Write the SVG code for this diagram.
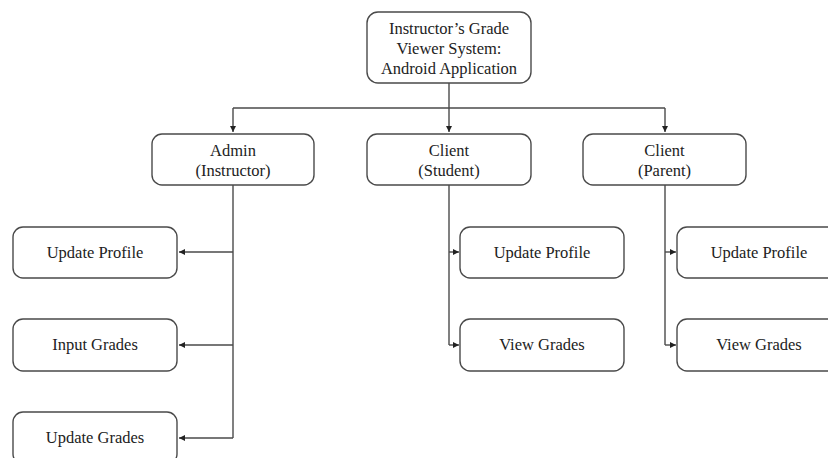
<svg xmlns="http://www.w3.org/2000/svg" width="828" height="458" viewBox="0 0 828 458">
<style>
  .box { fill: #ffffff; stroke: #4a4a4a; stroke-width: 1.4; }
  .lbl { font-family: "Liberation Serif", "Times New Roman", serif; font-size: 16.5px; fill: #222; text-anchor: middle; }
  .con { fill: none; stroke: #4a4a4a; stroke-width: 1.4; }
</style>
<defs>
  <marker id="arr" markerUnits="userSpaceOnUse" markerWidth="7" markerHeight="6" refX="6" refY="3" orient="auto">
    <path d="M0,0 L6,3 L0,6 Z" fill="#222"/>
  </marker>
</defs>
<rect width="828" height="458" fill="#ffffff"/>
<g id="connectors">
  <path class="con" d="M449,83 V132" marker-end="url(#arr)"/>
  <path class="con" d="M233,108 H665"/>
  <path class="con" d="M233,108 V132" marker-end="url(#arr)"/>
  <path class="con" d="M665,108 V132" marker-end="url(#arr)"/>
  <path class="con" d="M233,185 V438"/>
  <path class="con" d="M233,252 H179" marker-end="url(#arr)"/>
  <path class="con" d="M233,345 H179" marker-end="url(#arr)"/>
  <path class="con" d="M233,438 H179" marker-end="url(#arr)"/>
  <path class="con" d="M449,185 V345"/>
  <path class="con" d="M449,252 H459" marker-end="url(#arr)"/>
  <path class="con" d="M449,345 H459" marker-end="url(#arr)"/>
  <path class="con" d="M665,185 V345"/>
  <path class="con" d="M665,252 H676" marker-end="url(#arr)"/>
  <path class="con" d="M665,345 H676" marker-end="url(#arr)"/>
</g>
<g id="root">
  <rect class="box" x="367" y="12" width="164" height="71" rx="11"/>
  <text class="lbl" x="449" y="34">Instructor’s Grade</text>
  <text class="lbl" x="449" y="54">Viewer System:</text>
  <text class="lbl" x="449" y="74">Android Application</text>
</g>
<g id="admin">
  <rect class="box" x="152" y="134" width="162" height="51" rx="10"/>
  <text class="lbl" x="233" y="156">Admin</text>
  <text class="lbl" x="233" y="176">(Instructor)</text>
</g>
<g id="student">
  <rect class="box" x="367" y="134" width="164" height="51" rx="10"/>
  <text class="lbl" x="449" y="156">Client</text>
  <text class="lbl" x="449" y="176">(Student)</text>
</g>
<g id="parent">
  <rect class="box" x="583" y="134" width="163" height="51" rx="10"/>
  <text class="lbl" x="664.5" y="156">Client</text>
  <text class="lbl" x="664.5" y="176">(Parent)</text>
</g>
<g id="admin-update-profile">
  <rect class="box" x="13" y="227" width="164" height="51" rx="10"/>
  <text class="lbl" x="95" y="258">Update Profile</text>
</g>
<g id="admin-input-grades">
  <rect class="box" x="13" y="319" width="164" height="52" rx="10"/>
  <text class="lbl" x="95" y="350">Input Grades</text>
</g>
<g id="admin-update-grades">
  <rect class="box" x="13" y="412" width="164" height="52" rx="10"/>
  <text class="lbl" x="95" y="443">Update Grades</text>
</g>
<g id="student-update-profile">
  <rect class="box" x="460" y="227" width="164" height="51" rx="10"/>
  <text class="lbl" x="542" y="258">Update Profile</text>
</g>
<g id="student-view-grades">
  <rect class="box" x="460" y="319" width="164" height="52" rx="10"/>
  <text class="lbl" x="542" y="350">View Grades</text>
</g>
<g id="parent-update-profile">
  <rect class="box" x="677" y="227" width="164" height="51" rx="10"/>
  <text class="lbl" x="759" y="258">Update Profile</text>
</g>
<g id="parent-view-grades">
  <rect class="box" x="677" y="319" width="164" height="52" rx="10"/>
  <text class="lbl" x="759" y="350">View Grades</text>
</g>
</svg>
